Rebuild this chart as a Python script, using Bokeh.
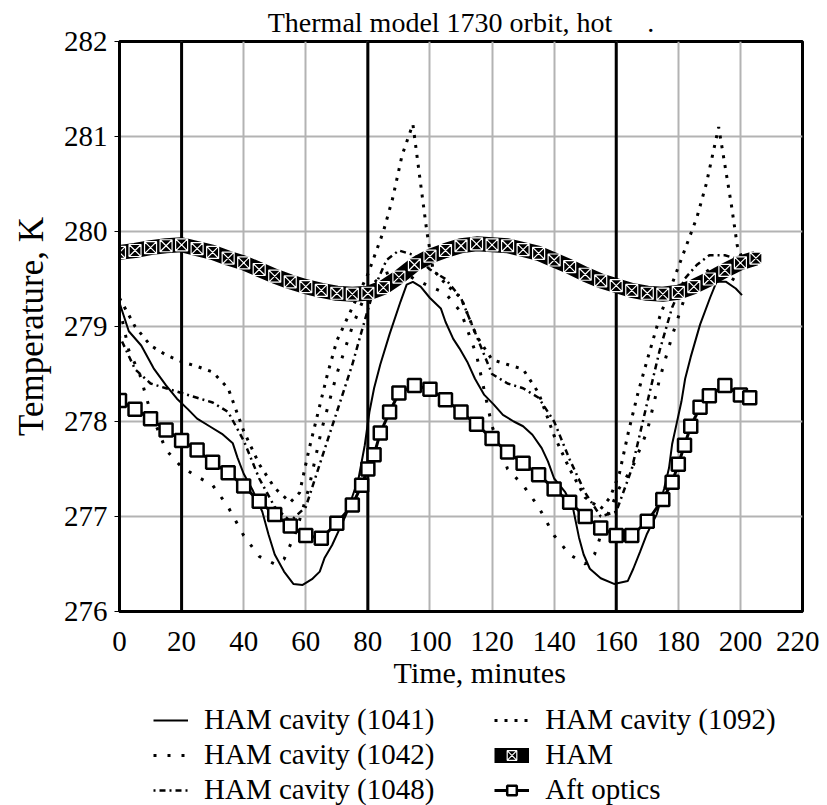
from bokeh.plotting import figure
from bokeh.layouts import column
from bokeh.models import Legend, LegendItem, Span, FixedTicker
from bokeh.embed import file_html
from bokeh.resources import INLINE

FONT = "Liberation Serif"
NB = "\u00a0"

title_text = "Thermal model 1730 orbit, hot" + NB * 5 + "."
x_label = NB * 5 + "Time, minutes"
y_label = "Temperature, K"
x_ticks = [0, 20, 40, 60, 80, 100, 120, 140, 160, 180, 200, 220]
y_ticks = [276, 277, 278, 279, 280, 281, 282]
orbit_marks = [20, 80, 160]

# HAM cavity (1041) - solid
t_1041 = [0, 3, 7, 11, 15, 18.5, 22, 25, 29, 33, 36.5, 38, 40, 43, 46, 48, 50, 53, 56, 59,
          62, 64.5, 66, 68.5, 73, 77, 79, 80.5, 82, 84, 87, 90.5, 92.5, 94.5, 97, 100, 103.5, 105, 107.5, 109.5,
          112, 114.5, 117.5, 120.5, 123.5, 127, 130, 133, 136, 138, 140, 143.5, 146, 148, 149.5, 151.5, 155, 159.3, 163.7, 165.5,
          167.7, 169.8, 173, 175.4, 177, 178, 179.4, 181, 182.2, 184, 187, 190.2, 192.3, 195.4, 198.5, 200.5]
T_1041 = [279.25, 278.95, 278.8, 278.56, 278.38, 278.24, 278.13, 278.03, 277.95, 277.87,
          277.77, 277.62, 277.45, 277.27, 277.05, 276.81, 276.6, 276.42, 276.29, 276.28,
          276.34, 276.42, 276.56, 276.7, 277.02, 277.4, 277.75, 278.1, 278.35, 278.6,
          278.92, 279.26, 279.44, 279.47, 279.42, 279.3, 279.19, 279.05, 278.87, 278.77,
          278.63, 278.45, 278.28, 278.18, 278.07, 278.0, 277.95, 277.86, 277.72, 277.58,
          277.4, 277.26, 277.1, 276.78, 276.6, 276.45, 276.35, 276.29, 276.32, 276.45,
          276.63, 276.81, 277.02, 277.29, 277.51, 277.76, 277.97, 278.21, 278.45, 278.68,
          279.02, 279.3, 279.47, 279.47, 279.4, 279.33]

# HAM cavity (1042) - sparse dots
t_1042 = [0, 3, 6.5, 10, 15, 20, 25, 30, 35, 40, 45, 50, 53, 57, 61, 65, 70, 75, 80, 85,
          90, 95, 100, 105, 110, 115, 120, 125, 130, 135, 140, 145, 150, 153, 157, 161, 165, 170, 174, 178,
          182, 186, 190, 195, 200]
T_1042 = [279.2, 278.75, 278.5, 278.1, 277.7, 277.52, 277.42, 277.33, 277.1, 276.8,
          276.58, 276.5, 276.55, 276.85, 277.3, 277.9, 278.5, 279.0, 279.4, 279.55,
          279.6, 279.5, 279.42, 279.35, 279.15, 278.7, 277.95, 277.5, 277.33, 277.1,
          276.8, 276.6, 276.5, 276.6, 277.0, 277.3, 277.5, 277.9, 278.45, 278.9,
          279.3, 279.5, 279.6, 279.55, 279.45]

# HAM cavity (1048) - dot-dash
t_1048 = [0, 5, 10, 15, 20, 25, 30, 35, 40, 45, 50, 55, 60, 65, 70, 75, 78, 82, 86, 90,
          95, 100, 105, 110, 115, 120, 125, 130, 135, 140, 145, 150, 155, 160, 165, 170, 174, 178, 182, 186,
          190, 195, 200]
T_1048 = [278.9, 278.55, 278.4, 278.35, 278.3, 278.25, 278.2, 278.1, 277.8, 277.4,
          277.1, 276.95, 277.1, 277.6, 278.1, 278.6, 278.95, 279.4, 279.7, 279.8,
          279.75, 279.6, 279.5, 279.3, 278.9, 278.5, 278.4, 278.35, 278.25, 278.0,
          277.6, 277.25, 277.0, 277.05, 277.5, 278.2, 278.75, 279.2, 279.5, 279.65,
          279.75, 279.75, 279.7]

# HAM cavity (1092) - dotted
t_1092 = [0, 5, 10, 15, 20, 25, 30, 35, 40, 45, 50, 55, 58, 61, 64, 67, 70, 75, 80, 85,
          88, 91, 94.5, 97, 99, 101, 105, 110, 115, 120, 125, 130, 135, 140, 145, 150, 155, 158, 161, 164,
          167, 170, 174, 178, 182, 186, 189, 193, 195, 197, 199, 202]
T_1092 = [279.3, 279.0, 278.8, 278.7, 278.63, 278.58, 278.52, 278.35, 277.9, 277.55,
          277.3, 277.15, 277.25, 277.7, 278.1, 278.5, 278.85, 279.2, 279.55, 280.0,
          280.35, 280.8, 281.13, 280.5, 280.0, 279.6, 279.45, 279.3, 278.9, 278.65,
          278.6, 278.55, 278.3, 277.85, 277.5, 277.2, 277.08, 277.2, 277.45, 277.9,
          278.3, 278.65, 279.1, 279.45, 279.8, 280.15, 280.5, 281.1, 280.7, 280.3,
          279.85, 279.6]

# HAM
t_ham = [0, 5, 10, 15, 20, 25, 30, 35, 40, 45, 50, 55, 60, 65, 70, 75, 80, 85, 90, 95,
         100, 105, 110, 115, 120, 125, 130, 135, 140, 145, 150, 155, 160, 165, 170, 175, 180, 185, 190, 195,
         200, 205]
T_ham = [279.78, 279.8, 279.83, 279.85, 279.86, 279.82, 279.78, 279.72, 279.67, 279.6,
         279.53, 279.47, 279.42, 279.38, 279.35, 279.34, 279.35, 279.41, 279.52, 279.65,
         279.74, 279.8, 279.85, 279.87, 279.86, 279.85, 279.81, 279.77, 279.7, 279.63,
         279.55, 279.48, 279.43, 279.38, 279.35, 279.34, 279.36, 279.42, 279.5, 279.59,
         279.67, 279.72]

# Aft optics
t_aft = [0, 5, 10, 15, 20, 25, 30, 35, 40, 45, 50, 55, 60, 65, 70, 75, 78, 80, 82, 84,
         87, 90, 95, 100, 105, 110, 115, 120, 125, 130, 135, 140, 145, 150, 155, 160, 165, 170, 175, 178,
         180, 182, 184, 187, 190, 195, 200, 203]
T_aft = [278.22, 278.13, 278.03, 277.91, 277.8, 277.7, 277.57, 277.46, 277.32, 277.16,
         277.02, 276.9, 276.8, 276.77, 276.93, 277.12, 277.33, 277.5, 277.65, 277.88,
         278.1, 278.3, 278.38, 278.34, 278.23, 278.1, 277.97, 277.82, 277.68, 277.56,
         277.44, 277.29, 277.15, 277.0, 276.88, 276.8, 276.8, 276.95, 277.18, 277.36,
         277.55, 277.75, 277.95, 278.15, 278.27, 278.38, 278.28, 278.25]

p = figure(frame_width=683, frame_height=570, x_range=(0, 220), y_range=(276, 282),
           output_backend="svg", toolbar_location=None,
           min_border_left=119, min_border_right=17, min_border_top=40, min_border_bottom=92)

p.title.text = title_text
p.title.align = "center"
p.title.text_font = FONT
p.title.text_font_size = "28px"
p.title.text_font_style = "normal"
p.title.text_color = "black"
p.title.standoff = 8

p.xaxis.ticker = FixedTicker(ticks=x_ticks)
p.yaxis.ticker = FixedTicker(ticks=y_ticks)
p.xgrid.ticker = FixedTicker(ticks=x_ticks)
p.ygrid.ticker = FixedTicker(ticks=y_ticks)
for g in (p.xgrid, p.ygrid):
    g.grid_line_color = "#b3b3b3"
    g.grid_line_width = 2
    g.grid_line_alpha = 1

p.xaxis.axis_label = x_label
p.yaxis.axis_label = y_label
for ax in (p.xaxis, p.yaxis):
    ax.axis_label_text_font = FONT
    ax.axis_label_text_font_style = "normal"
    ax.axis_label_text_color = "black"
    ax.major_label_text_font = FONT
    ax.major_label_text_font_size = "29px"
    ax.major_label_text_color = "black"
    ax.axis_line_color = "black"
    ax.axis_line_width = 3
    ax.minor_tick_line_color = None
    ax.major_tick_line_color = "black"
    ax.major_tick_in = 0
p.xaxis.axis_label_text_font_size = "30px"
p.yaxis.axis_label_text_font_size = "35px"
p.xaxis.major_tick_out = 0
p.yaxis.major_tick_out = 5
p.yaxis.major_label_standoff = 7
p.xaxis.major_label_standoff = 20
p.xaxis.axis_label_standoff = 2
p.yaxis.axis_label_standoff = 10
p.outline_line_color = "black"
p.outline_line_width = 3
p.outline_line_alpha = 1

for m in orbit_marks:
    p.add_layout(Span(location=m, dimension="height", line_color="black", line_width=3, level="underlay"))

styles = {
    "1041": dict(line_color="black", line_width=2),
    "1042": dict(line_color="black", line_width=3, line_dash="3 11"),
    "1048": dict(line_color="black", line_width=2.5, line_dash="2 4 6 4"),
    "1092": dict(line_color="black", line_width=3, line_dash="3 7"),
    "ham_l": dict(line_color="black", line_width=15),
    "ham_m": dict(marker="square_x", size=12, fill_color="black", line_color="white", line_width=1.2),
    "aft_l": dict(line_color="black", line_width=3),
    "aft_m": dict(marker="square", size=13, fill_color="white", line_color="black", line_width=2.5),
}

p.line(t_1041, T_1041, **styles["1041"])
p.line(t_1042, T_1042, **styles["1042"])
p.line(t_1048, T_1048, **styles["1048"])
p.line(t_1092, T_1092, **styles["1092"])
p.line(t_ham, T_ham, **styles["ham_l"])
p.scatter(t_ham, T_ham, **styles["ham_m"])
p.line(t_aft, T_aft, **styles["aft_l"])
p.scatter(t_aft, T_aft, **styles["aft_m"])

# legend strip: a figure holding only legend swatches (renderers carry a single
# undefined point so that nothing is drawn in the strip itself)
lg = figure(width=819, height=104, output_backend="svg", toolbar_location=None,
            min_border_left=0, min_border_right=0, min_border_top=0, min_border_bottom=0,
            x_range=(0, 1), y_range=(0, 1))
lg.axis.visible = False
lg.grid.visible = False
lg.outline_line_color = None
nan = [float("nan")]
g1041 = lg.line(nan, nan, **styles["1041"])
g1042 = lg.line(nan, nan, **styles["1042"])
g1048 = lg.line(nan, nan, **styles["1048"])
g1092 = lg.line(nan, nan, **styles["1092"])
gham_l = lg.line(nan, nan, **styles["ham_l"])
gham_m = lg.scatter(nan, nan, **styles["ham_m"])
gaft_l = lg.line(nan, nan, **styles["aft_l"])
gaft_m = lg.scatter(nan, nan, **styles["aft_m"])

pad = NB * 8
legend = Legend(items=[
    LegendItem(label="HAM cavity (1041)" + pad, renderers=[g1041]),
    LegendItem(label="HAM cavity (1042)" + pad, renderers=[g1042]),
    LegendItem(label="HAM cavity (1048)" + pad, renderers=[g1048]),
    LegendItem(label="HAM cavity (1092)", renderers=[g1092]),
    LegendItem(label="HAM", renderers=[gham_l, gham_m]),
    LegendItem(label="Aft optics", renderers=[gaft_l, gaft_m]),
], ncols=2, orientation="vertical", location=(34, 1))
legend.label_text_font = FONT
legend.label_text_font_size = "29px"
legend.label_text_color = "black"
legend.border_line_color = None
legend.background_fill_alpha = 0
legend.glyph_width = 35
legend.glyph_height = 24
legend.label_height = 24
legend.label_standoff = 16
legend.spacing = 2
legend.padding = 0
legend.margin = 0
lg.add_layout(legend)

layout = column(p, lg, spacing=0)
open("out.html", "w").write(file_html(layout, INLINE))
